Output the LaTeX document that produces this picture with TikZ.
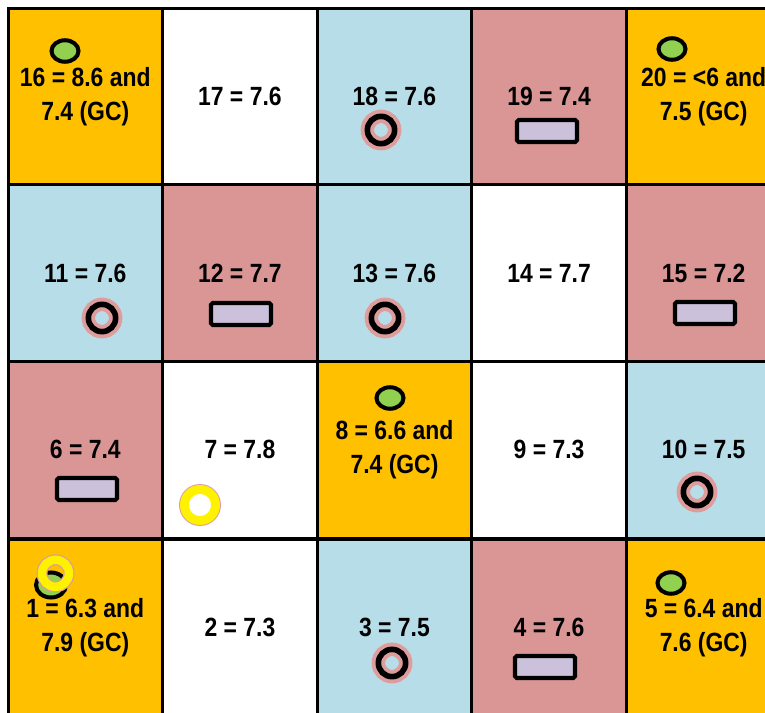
\documentclass[tikz,border=0pt]{standalone}
\usepackage{fontspec}
\setmainfont{Liberation Sans}[FakeStretch=0.87]
\usetikzlibrary{shapes.geometric}
\definecolor{cellorange}{HTML}{FFC000}
\definecolor{cellblue}{HTML}{B7DEE8}
\definecolor{cellpink}{HTML}{DA9694}
\definecolor{dotgreen}{HTML}{92D050}
\definecolor{barlilac}{HTML}{CCC1DA}
\definecolor{ringpink}{HTML}{DE9C9C}
\tikzset{
  plotcell/.style={
    rectangle, draw=black, line width=1.7pt, fill=#1,
    minimum width=3.092cm, minimum height=3.535cm,
    inner sep=0pt, outer sep=0pt, align=center,
    font=\fontsize{15}{19.3}\selectfont\bfseries
  },
  greendot/.style={
    ellipse, draw=black, line width=2.3pt, fill=dotgreen,
    minimum width=0.54cm, minimum height=0.43cm, inner sep=0pt
  },
  pinkring/.style={
    circle, draw=black, line width=3.2pt,
    minimum size=0.546cm, inner sep=0pt,
    preaction={draw=ringpink, line width=7.65pt}
  },
  yellowring/.style={
    circle, draw=yellow, line width=5.1pt, fill=white,
    minimum size=0.62cm, inner sep=0pt,
    preaction={draw=ringpink, line width=6.2pt}
  },
  lilacbar/.style={
    rectangle, rounded corners=1pt, draw=black, line width=2.3pt,
    fill=barlilac, minimum width=1.2cm, minimum height=0.44cm, inner sep=0pt
  },
}
\begin{document}
\begin{tikzpicture}[x=0.02cm, y=-0.02cm]
  \useasboundingbox (0,0) rectangle (765,713);
  \clip (0,0) rectangle (765,713);
  % plots, top row first
  \node[plotcell=cellorange](c16) at (85.3,96.4)  {16 = 8.6 and\\7.4 (GC)};
  \node[plotcell=white]     (c17) at (239.9,96.4) {17 = 7.6};
  \node[plotcell=cellblue]  (c18) at (394.5,96.4) {18 = 7.6};
  \node[plotcell=cellpink]  (c19) at (549.1,96.4) {19 = 7.4};
  \node[plotcell=cellorange](c20) at (703.7,96.4) {20 = <6 and\\7.5 (GC)};
  \node[plotcell=cellblue]  (c11) at (85.3,273.1)  {11 = 7.6};
  \node[plotcell=cellpink]  (c12) at (239.9,273.1) {12 = 7.7};
  \node[plotcell=cellblue]  (c13) at (394.5,273.1) {13 = 7.6};
  \node[plotcell=white]     (c14) at (549.1,273.1) {14 = 7.7};
  \node[plotcell=cellpink]  (c15) at (703.7,273.1) {15 = 7.2};
  \node[plotcell=cellpink]  (c6)  at (85.3,449.8)  {6 = 7.4};
  \node[plotcell=white]     (c7)  at (239.9,449.8) {7 = 7.8};
  \node[plotcell=cellorange](c8)  at (394.5,449.8) {8 = 6.6 and\\7.4 (GC)};
  \node[plotcell=white]     (c9)  at (549.1,449.8) {9 = 7.3};
  \node[plotcell=cellblue]  (c10) at (703.7,449.8) {10 = 7.5};
  \node[plotcell=cellorange](c1)  at (85.3,627.5)  {1 = 6.3 and\\7.9 (GC)};
  \node[plotcell=white]     (c2)  at (239.9,627.5) {2 = 7.3};
  \node[plotcell=cellblue]  (c3)  at (394.5,627.5) {3 = 7.5};
  \node[plotcell=cellpink]  (c4)  at (549.1,627.5) {4 = 7.6};
  \node[plotcell=cellorange](c5)  at (703.7,627.5) {5 = 6.4 and\\7.6 (GC)};
  % markers
  \node[greendot](g16) at (65,51)  {};
  \node[greendot](g20) at (672,49) {};
  \node[greendot](g8)  at (390,398) {};
  \node[greendot](g5)  at (671,583) {};
  \node[greendot, minimum width=0.6cm, minimum height=0.5cm](g1) at (51,585) {};
  \node[pinkring](r18) at (381,130) {};
  \node[pinkring](r11) at (102,318) {};
  \node[pinkring](r13) at (385,318) {};
  \node[pinkring](r10) at (697,492) {};
  \node[pinkring](r3)  at (392,663) {};
  \node[lilacbar](b19) at (547,131) {};
  \node[lilacbar](b12) at (241,314) {};
  \node[lilacbar](b15) at (705,313) {};
  \node[lilacbar](b6)  at (87,489)  {};
  \node[lilacbar](b4)  at (545,667) {};
  \node[yellowring](y7) at (200,505) {};
  \node[yellowring, fill=none, minimum size=0.54cm, line width=4.8pt,
        preaction={draw=ringpink, line width=5.7pt}](y1) at (55.5,573.3) {};
\end{tikzpicture}
\end{document}
